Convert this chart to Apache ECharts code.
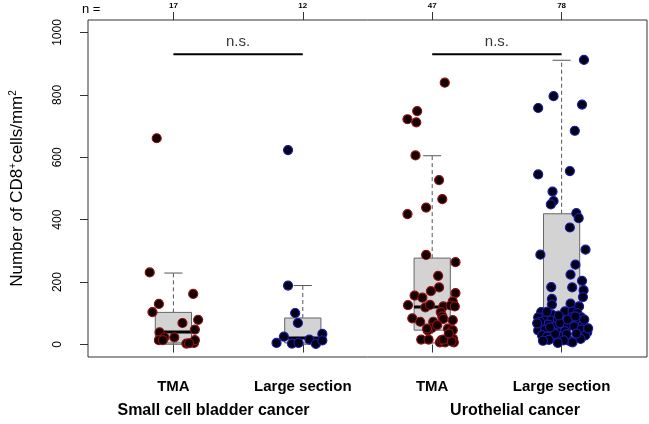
<!DOCTYPE html>
<html><head><meta charset="utf-8">
<script src="https://cdn.jsdelivr.net/npm/echarts@6/dist/echarts.min.js"></script>
<style>html,body{margin:0;padding:0;background:#fff}#c{width:649px;height:424px}</style>
</head><body><div id="c"></div><script>
// ---- data ----
const groupPositions = [1, 2, 3, 4];
const methodLabels = ['TMA', 'Large section', 'TMA', 'Large section'];
const nLabels = ['17', '12', '47', '78'];
const cancerLabels = ['Small cell bladder cancer', 'Urothelial cancer'];
const cancerLabelPositions = [1.31, 3.64];
const yTicks = [0, 200, 400, 600, 800, 1000];
// box statistics per group: [lower whisker, Q1, median, Q3, upper whisker]
const boxStats = [
  [1, 5, 40, 103, 229],
  [1, 5, 21, 85, 189],
  [5, 46, 120, 277, 605],
  [10, 50, 97, 419, 911]
];
const nsPairs = [[1, 2], [3, 4]];
const nsLevel = 930;
const nsText = 'n.s.';

// jittered observations (x position on group axis, cells/mm2)
const scbcTmaX = [0.817,1.153,0.888,0.838,1.070,1.191,1.166,0.893,0.931,0.888,1.007,1.100,1.159,1.166,0.918,0.871,1.121];
const scbcTmaY = [231,162,130,104,69,79,48,39,23,14,23,3,5,14,14,661,4];

const scbcLsX = [1.886,1.886,1.941,1.962,1.854,1.797,1.916,1.967,2.051,2.101,2.151,2.151];
const scbcLsY = [623,189,101,69,25,5,3,5,16,2,34,13];

const ucTmaX = [3.097,2.884,2.809,2.877,2.871,3.053,3.078,2.953,2.809,2.953,3.180,3.046,3.053,2.990,2.864,3.180,2.813,2.947,2.983,3.086,3.159,3.142,3.175,3.066,3.078,3.086,2.846,2.907,3.008,3.159,2.998,2.965,3.122,3.159,2.915,2.972,3.059,3.099,3.162,3.167,3.071,3.150,3.086,2.960,3.038,3.129,2.924];
const ucTmaY = [839,748,722,712,606,527,466,439,418,287,264,220,183,171,157,165,126,119,127,122,138,125,122,104,90,82,84,73,73,78,53,45,51,46,16,16,7,7,18,7,14,10,16,51,62,35,150];

const ucLsX = [4.173,3.938,3.819,4.158,4.102,3.819,4.064,3.930,3.938,3.917,4.114,4.132,4.064,4.185,3.836,4.107,4.069,4.158,3.920,4.082,4.170,4.165,3.925,3.925,4.069,4.135,
  3.842,3.882,3.925,3.819,4.026,4.084,4.122,4.152,4.077,3.867,3.920,3.970,4.127,4.165,3.849,3.900,3.950,3.988,4.046,4.097,3.819,3.874,3.925,3.976,4.026,4.152,4.198,3.849,3.887,3.950,4.001,4.140,4.183,4.064,4.084,4.147,
  3.887,3.978,4.046,3.834,4.175,3.950,4.039,3.902,4.017,4.114,4.205,3.856,3.971,3.910,3.811,4.107];
const ucLsY = [912,796,758,769,685,545,556,490,460,449,421,405,375,304,288,256,224,204,184,183,174,152,146,128,131,122,
  104,98,96,87,106,106,101,87,87,77,77,82,71,64,61,64,57,69,57,58,45,48,43,39,43,48,39,29,25,18,25,21,29,11,7,18,
  105,93,80,73,80,34,33,15,13,35,52,12,5,55,68,90];

// ---- chart ----
const FONT = "'Liberation Sans', Arial, Helvetica, sans-serif";
const zip = (xs, ys) => xs.map((x, i) => [x, ys[i]]);
const tmaStyle = { color: '#140000', borderColor: '#8e1212', borderWidth: 1.2, opacity: 1 };
const lsStyle = { color: '#000018', borderColor: '#1a1aa6', borderWidth: 1.2, opacity: 1 };

function renderBox(params, api) {
  const x = api.value(0);
  const c = v => api.coord([x, v]);
  const pLo = c(api.value(1)), pQ1 = c(api.value(2)), pMed = c(api.value(3)), pQ3 = c(api.value(4)), pHi = c(api.value(5));
  const half = api.size([0.14, 0])[0];
  const cap = half / 2;
  const cx = pMed[0];
  const dash = { stroke: '#555', lineWidth: 1, lineDash: [4, 3] };
  const solid = { stroke: '#555', lineWidth: 1 };
  return { type: 'group', children: [
    { type: 'line', shape: { x1: cx, y1: pQ3[1], x2: cx, y2: pHi[1] }, style: dash },
    { type: 'line', shape: { x1: cx, y1: pQ1[1], x2: cx, y2: pLo[1] }, style: dash },
    { type: 'line', shape: { x1: cx - cap, y1: pHi[1], x2: cx + cap, y2: pHi[1] }, style: solid },
    { type: 'line', shape: { x1: cx - cap, y1: pLo[1], x2: cx + cap, y2: pLo[1] }, style: solid },
    { type: 'rect', shape: { x: cx - half, y: pQ3[1], width: 2 * half, height: pQ1[1] - pQ3[1] }, style: { fill: '#d3d3d3', stroke: '#666', lineWidth: 1 } },
    { type: 'line', shape: { x1: cx - half, y1: pMed[1], x2: cx + half, y2: pMed[1] }, style: { stroke: '#000', lineWidth: 3 } }
  ] };
}

const series = [
  { type: 'custom', name: 'box', xAxisIndex: 0, yAxisIndex: 0, renderItem: renderBox, z: 1,
    encode: { x: 0, y: [1, 2, 3, 4, 5] },
    data: boxStats.map((s, i) => [groupPositions[i]].concat(s)) },
  { type: 'scatter', xAxisIndex: 0, symbolSize: 9, itemStyle: tmaStyle, z: 5, data: zip(scbcTmaX, scbcTmaY) },
  { type: 'scatter', xAxisIndex: 0, symbolSize: 9, itemStyle: lsStyle, z: 5, data: zip(scbcLsX, scbcLsY) },
  { type: 'scatter', xAxisIndex: 0, symbolSize: 9, itemStyle: tmaStyle, z: 5, data: zip(ucTmaX, ucTmaY) },
  { type: 'scatter', xAxisIndex: 0, symbolSize: 9, itemStyle: lsStyle, z: 5, data: zip(ucLsX, ucLsY) }
];
nsPairs.forEach(p => {
  series.push({ type: 'line', xAxisIndex: 0, symbol: 'none', z: 4, lineStyle: { color: '#000', width: 2 },
    data: [[p[0], nsLevel], [p[1], nsLevel]] });
  series.push({ type: 'scatter', xAxisIndex: 0, symbolSize: 1, itemStyle: { color: 'transparent' }, z: 4,
    label: { show: true, position: 'top', distance: 4, formatter: nsText, fontSize: 15, color: '#000', fontFamily: FONT },
    data: [[(p[0] + p[1]) / 2, nsLevel]] });
});

const chart = echarts.init(document.getElementById('c'), null, { renderer: 'canvas' });
chart.setOption({
  animation: false,
  textStyle: { fontFamily: FONT, color: '#000' },
  grid: { left: 77, right: 2, top: 20, bottom: 67, show: true, borderColor: '#333', borderWidth: 1 },
  xAxis: [
    { type: 'value', min: 0.34, max: 4.66, position: 'bottom', splitLine: { show: false }, axisLine: { show: false },
      axisTick: { customValues: groupPositions, length: 8, lineStyle: { color: '#333' } },
      axisLabel: { customValues: groupPositions, formatter: v => methodLabels[Math.round(v) - 1], fontWeight: 'bold', fontSize: 15, color: '#000', margin: 22 } },
    { type: 'value', min: 0.34, max: 4.66, position: 'top', splitLine: { show: false }, axisLine: { show: false },
      axisTick: { customValues: groupPositions, length: 8, lineStyle: { color: '#333' } },
      axisLabel: { customValues: groupPositions, formatter: v => nLabels[Math.round(v) - 1], fontSize: 8, fontWeight: 'bold', color: '#000', margin: 10 } }
  ],
  yAxis: [{
    type: 'value', min: -40, max: 1040, splitLine: { show: false }, axisLine: { show: false },
    axisTick: { customValues: yTicks, length: 8, lineStyle: { color: '#333' } },
    axisLabel: { customValues: yTicks, formatter: v => String(v), rotate: 90, fontSize: 12, color: '#000', margin: 24 },
    name: 'Number of CD8{sup|+}cells/mm{sup|2}', nameLocation: 'middle', nameRotate: 90, nameGap: 61,
    nameTextStyle: { fontSize: 17, color: '#000', rich: { sup: { fontSize: 10, verticalAlign: 'top', padding: [0, 0, 9, 0] } } }
  }],
  series: series
});

// group (cancer type) labels placed through the x scale
const groupFontSize = 16;
const labelY = chart.getHeight() - 13;
chart.setOption({
  graphic: [
    { type: 'text', left: 82, top: 3, style: { text: 'n =', fontSize: 13, fill: '#000', fontFamily: FONT } }
  ].concat(cancerLabels.map((t, i) => ({
    type: 'text',
    x: chart.convertToPixel({ xAxisIndex: 0 }, cancerLabelPositions[i]),
    y: labelY,
    style: { text: t, fill: '#000', font: 'bold ' + groupFontSize + 'px ' + FONT,
      align: 'center', verticalAlign: 'middle', textAlign: 'center', textVerticalAlign: 'middle' }
  })))
});
</script></body></html>
